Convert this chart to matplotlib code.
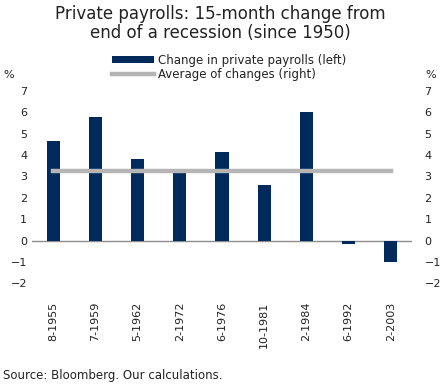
import numpy as np
import matplotlib.pyplot as plt

# Data
dates = ["8-1955", "7-1959", "5-1962", "2-1972", "6-1976",
         "10-1981", "2-1984", "6-1992", "2-2003"]
changes = [4.68, 5.76, 3.84, 3.16, 4.13, 2.61, 6.01, -0.17, -0.99]
average = [3.24] * len(dates)
y_ticks = [-2, -1, 0, 1, 2, 3, 4, 5, 6, 7]

BAR_COLOR = "#002a5c"
LINE_COLOR = "#b5b5b5"
TEXT_COLOR = "#222222"

plt.rcParams["font.family"] = ["DejaVu Sans"]

fig = plt.figure(figsize=(4.4, 3.86), dpi=100)
ax = fig.add_axes([32 / 440, 1 - 283.3 / 386, 380 / 440, (283.3 - 91) / 386])

x = np.arange(len(dates))
bars = ax.bar(x, changes, width=0.31, color=BAR_COLOR, zorder=2)
line, = ax.plot(x, average, color=LINE_COLOR, lw=3.2, zorder=3)
ax.axhline(0, color="#8c8c8c", lw=1, zorder=1)

ax.set_xlim(-0.5, len(dates) - 0.5)
ax.set_ylim(-2, 7)
ax.set_yticks(y_ticks)
ax.set_xticks(x)
ax.set_xticklabels(dates, rotation=90, fontsize=8, color=TEXT_COLOR)
ax.tick_params(axis="both", length=0, labelsize=8, colors=TEXT_COLOR)
ax.tick_params(axis="x", pad=13)
for s in ax.spines.values():
    s.set_visible(False)

ax2 = ax.twinx()
ax2.set_ylim(-2, 7)
ax2.set_yticks(y_ticks)
ax2.tick_params(axis="y", length=0, labelsize=8, colors=TEXT_COLOR, pad=9)
for s in ax2.spines.values():
    s.set_visible(False)

fig.text(3 / 440, 1 - 75 / 386, "%", fontsize=8, color=TEXT_COLOR, va="center")
fig.text(425 / 440, 1 - 75 / 386, "%", fontsize=8, color=TEXT_COLOR, va="center")

fig.suptitle("Private payrolls: 15-month change from\nend of a recession (since 1950)",
             y=0.988, fontsize=12, color=TEXT_COLOR, linespacing=1.1)

fig.legend([bars, line],
           ["Change in private payrolls (left)", "Average of changes (right)"],
           loc="center", bbox_to_anchor=(0.52, 1 - 67.5 / 386),
           frameon=False, fontsize=8.5, handlelength=3.6, handleheight=0.6,
           labelspacing=0.15, handletextpad=0.3, labelcolor=TEXT_COLOR)

fig.text(3 / 440, 1 - 376 / 386, "Source: Bloomberg. Our calculations.",
         fontsize=8.5, color=TEXT_COLOR, va="center")

fig.savefig("out.png", dpi=100)
